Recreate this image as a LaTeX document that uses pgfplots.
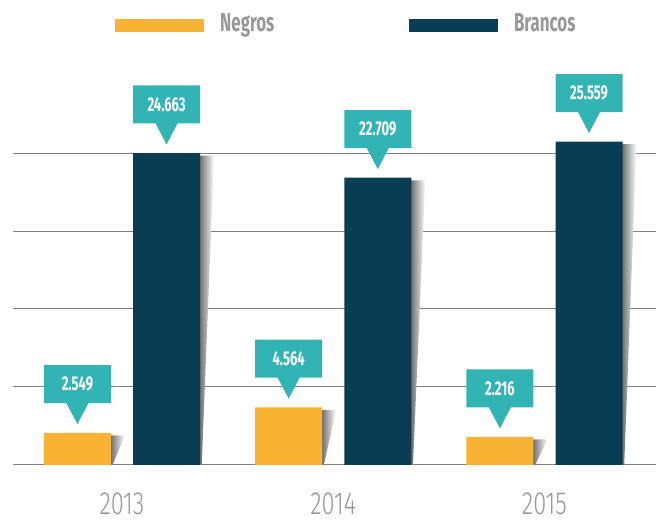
\documentclass[border=0pt]{standalone}
\usepackage{fontspec}
\setmainfont{Fira Sans}[FakeStretch=0.65]
\newfontfamily\yearfont{Fira Sans Light}[FakeStretch=0.74]
\usepackage{pgfplots}
\pgfplotsset{compat=1.18}
\usetikzlibrary{shapes.callouts}

\definecolor{negros}{RGB}{250,178,51}
\definecolor{brancos}{RGB}{8,61,84}
\definecolor{bubblecol}{RGB}{50,180,180}
\definecolor{labelgray}{RGB}{155,151,152}
\definecolor{gridgray}{RGB}{128,128,128}

\tikzset{
  bubble/.style={rectangle callout, fill=bubblecol, text=white,
    font=\bfseries\fontsize{15}{15}\selectfont,
    minimum width=50.25pt, minimum height=28.5pt, inner sep=0pt,
    callout relative pointer={(0pt,-15.75pt)}, callout pointer width=16.5pt,
    anchor=pointer, yshift=6pt}
}
\pgfplotsset{
  barshadow/.style={forget plot, draw=none, left color=black!55, right color=white}
}

\begin{document}
\begin{tikzpicture}
\begin{axis}[
    name=ax,
    scale only axis,
    width=482.25pt, height=303.75pt,
    xmin=-0.516, xmax=2.528,
    ymin=0, ymax=32016,
    axis line style={draw=none},
    xtick={0,1,2},
    xticklabels={2013,2014,2015},
    ytick={0,6166,12332,18497,24663},
    yticklabels={},
    scaled y ticks=false,
    ymajorgrids,
    grid style={draw=gridgray, line width=0.75pt},
    major tick length=0pt,
    xticklabel style={font=\yearfont\fontsize{24}{24}\selectfont, text=labelgray, inner sep=0pt, yshift=-21pt},
    clip=false,
    legend columns=2,
    legend style={at={(axis description cs:0.1586,1.0655)}, anchor=south west,
        draw=none, fill=none, inner sep=0pt,
        font=\bfseries\fontsize{19.5}{19.5}\selectfont, text=labelgray,
        nodes={inner sep=0pt},
        /tikz/every odd column/.append style={column sep=12pt},
        /tikz/every even column/.append style={column sep=101pt}},
    legend image code/.code={\fill[#1, draw=none] (0pt,-6.75pt) rectangle (66.75pt,3pt);},
    /pgf/number format/.cd, fixed, precision=0, 1000 sep={.}, assume math mode=true,
]

% shadows behind the bars
\addplot[barshadow] coordinates {(-0.0525,2349) (0.0138,2349) (-0.0445,0)} \closedcycle;
\addplot[barshadow] coordinates {(0.9475,4364) (1.0138,4364) (0.9555,0)} \closedcycle;
\addplot[barshadow] coordinates {(1.9475,2016) (2.0138,2016) (1.9555,0)} \closedcycle;
\addplot[barshadow] coordinates {(0.3695,24463) (0.4358,24463) (0.3775,0)} \closedcycle;
\addplot[barshadow] coordinates {(1.3695,22509) (1.4358,22509) (1.3775,0)} \closedcycle;
\addplot[barshadow] coordinates {(2.3695,25359) (2.4358,25359) (2.3775,0)} \closedcycle;

% bars placed at their own x positions (group centre -/+ 0.211)
\addplot[ybar, bar width=0.317, bar shift=0, fill=negros, draw=none,
    nodes near coords, nodes near coords style={bubble}]
    coordinates {(-0.211,2549) (0.789,4564) (1.789,2216)};
\addlegendentry{Negros}

\addplot[ybar, bar width=0.317, bar shift=0, fill=brancos, draw=none,
    nodes near coords, nodes near coords style={bubble}]
    coordinates {(0.211,24663) (1.211,22709) (2.211,25559)};
\addlegendentry{Brancos}

\end{axis}
\pgfresetboundingbox
\path ([shift={(-9.75pt,-43.5pt)}]ax.south west) rectangle ([shift={(0pt,45pt)}]ax.north east);
\end{tikzpicture}
\end{document}
